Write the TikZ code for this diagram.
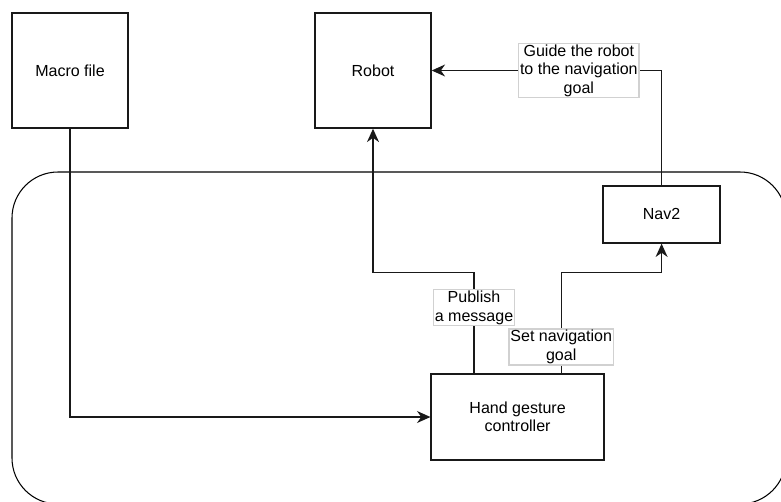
\documentclass[tikz,border=0pt]{standalone}
\usepackage{fontspec}
\setmainfont{Liberation Sans}
\usetikzlibrary{arrows.meta, positioning, calc}
\newcommand{\diagfont}{\fontsize{11.4}{13.1}\selectfont}

\begin{document}
\begin{tikzpicture}[
  block/.style={draw=black!90, line width=1pt, fill=white, align=center, font=\diagfont},
  flow/.style={-{Stealth[length=9.5pt, width=8.5pt, inset=3pt]}, line width=1pt, draw=black!90},
  tag/.style={draw=black!18, fill=white, inner sep=1pt, align=center, font=\diagfont}
]
  \useasboundingbox (0, 0) rectangle (19.525, -12.525);

  % The container frame (runs off the right and bottom edges)
  \begin{scope}
    \clip (0, 0) rectangle (19.525, -12.525);
    \draw[line width=0.75pt, rounded corners=1.15cm] (0.3, -4.3) rectangle (19.65, -12.6);
  \end{scope}

  % Boxes
  \node[block, minimum width=2.9cm, minimum height=2.875cm] (macro) at (1.75, -1.7625) {Macro file};
  \node[block, minimum width=2.9cm, minimum height=2.875cm] (robot) at (9.325, -1.7625) {Robot};
  \node[block, minimum width=2.925cm, minimum height=1.425cm] (nav) at (16.54, -5.36) {Nav2};
  \node[block, minimum width=4.325cm, minimum height=2.15cm] (hand) at (12.94, -10.425) {Hand gesture\\controller};

  % Connectors
  \draw[flow] (macro.south) |- (hand.west);
  \draw[flow] ([xshift=-1.09cm]hand.north) -- node[tag, pos=0.65] {Publish\\a message} ++(0, 2.525) -| (robot.south);
  \draw[flow] ([xshift=1.09cm]hand.north) -- node[tag, pos=0.26] {Set navigation\\goal} ++(0, 2.525) -| (nav.south);
  \draw[flow] (nav.north) |- node[tag, pos=0.68] {Guide the robot\\to the navigation\\goal} (robot.east);
\end{tikzpicture}
\end{document}
